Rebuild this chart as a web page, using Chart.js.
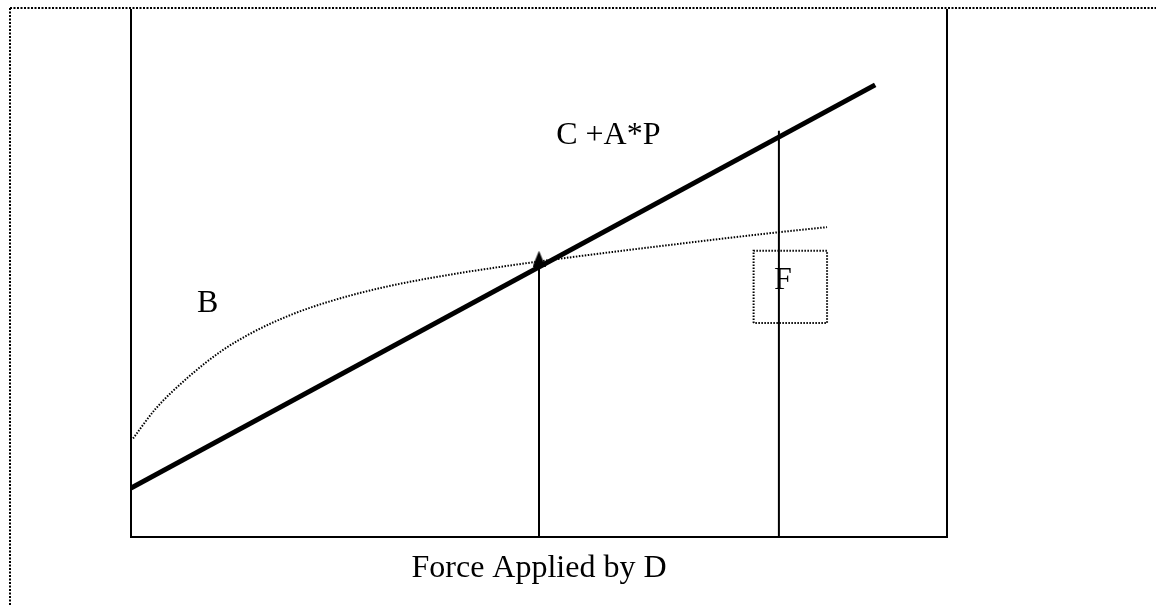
<!DOCTYPE html>
<html>
<head>
<meta charset="utf-8">
<title>Force Applied by D</title>
<script src="https://cdn.jsdelivr.net/npm/chart.js@4/dist/chart.umd.min.js"></script>
<style>
    html, body { margin: 0; padding: 0; background: #fff; }
    #holder { width: 1156px; height: 606px; }
</style>
</head>
<body>
<div id="holder"><canvas id="chart" width="1156" height="606"></canvas></div>
<script>
/*
 * Values (both axes run 0..100, no ticks shown)
 */
var axisTitle = 'Force Applied by D';

// Straight response line C + A*P
var lineX = [0, 91.2];
var lineY = [9.3, 85.8];

// Dotted saturating curve B
var curveX = [0.25, 3, 7, 11, 15, 20, 25, 31, 38, 45, 55, 67, 78, 85.3];
var curveY = [18.7, 24.3, 30.3, 35.2, 38.9, 42.4, 45.0, 47.4, 49.5, 51.2, 53.3, 55.6, 57.6, 58.8];

// Vertical drop lines (x position, height)
var dropX = [50.0, 79.4];
var dropTop = [52.8, 77.1];

// Dotted box round F
var boxX = [76.3, 85.3];
var boxY = [40.6, 54.3];

// Text labels placed in data units
var labelText = ['C +A*P', 'B', 'F'];
var labelX = [58.5, 9.4, 79.9];
var labelY = [76.2, 44.2, 48.6];

var serif = '"Liberation Serif", "Times New Roman", serif';

/*
 * Builds an {x, y} list from two arrays
 */
var toPoints = function(xs, ys) {
    return xs.map(function(x, i) { return { x: x, y: ys[i] }; });
};

/*
 * Small upward triangle drawn on a canvas, used as the marker
 */
var makeTriangle = function() {
    var c = document.createElement('canvas');
    c.width = 13;
    c.height = 16;
    var g = c.getContext('2d');
    g.fillStyle = '#000';
    g.beginPath();
    g.moveTo(6.5, 0);
    g.lineTo(13, 16);
    g.lineTo(0, 16);
    g.closePath();
    g.fill();
    return c;
};

// Dotted outer frame, top and left only
var framePlugin = {
    id: 'frame',
    afterDraw: function(chart) {
        var ctx = chart.ctx;
        ctx.save();
        ctx.strokeStyle = '#000';
        ctx.lineWidth = 2;
        ctx.setLineDash([2, 1.5]);
        ctx.beginPath();
        ctx.moveTo(10, 8);
        ctx.lineTo(chart.width, 8);
        ctx.moveTo(10, 8);
        ctx.lineTo(10, chart.height);
        ctx.stroke();
        ctx.restore();
    }
};

// Text labels positioned through the scales
var labelPlugin = {
    id: 'labels',
    afterDatasetsDraw: function(chart) {
        var ctx = chart.ctx;
        var xs = chart.scales.x;
        var ys = chart.scales.y;
        ctx.save();
        ctx.fillStyle = '#000';
        ctx.font = '32px ' + serif;
        ctx.textAlign = 'center';
        ctx.textBaseline = 'middle';
        labelText.forEach(function(t, i) {
            ctx.fillText(t, xs.getPixelForValue(labelX[i]), ys.getPixelForValue(labelY[i]));
        });
        ctx.restore();
    }
};

var hiddenScale = function(extra) {
    var s = {
        type: 'linear',
        min: 0,
        max: 100,
        grid: { display: false },
        ticks: { display: false },
        border: { display: true, color: '#000', width: 2 }
    };
    return Object.assign(s, extra);
};

var triangle = makeTriangle();
var datasets = [];

// Thick straight line
datasets.push({
    data: toPoints(lineX, lineY),
    borderColor: '#000',
    borderWidth: 5,
    pointRadius: 0
});

// Dotted curve
datasets.push({
    data: toPoints(curveX, curveY),
    borderColor: '#000',
    borderWidth: 2,
    borderDash: [1.5, 1.5],
    cubicInterpolationMode: 'monotone',
    pointRadius: 0
});

// Drop lines, first one carries the triangle marker
dropX.forEach(function(x, i) {
    datasets.push({
        data: [{ x: x, y: 0 }, { x: x, y: dropTop[i] }],
        borderColor: '#000',
        borderWidth: 2,
        pointStyle: triangle,
        pointRadius: i == 0 ? [0, 8] : 0
    });
});

// Box round F
datasets.push({
    data: toPoints(
        [boxX[0], boxX[0], boxX[1], boxX[1], boxX[0]],
        [boxY[0], boxY[1], boxY[1], boxY[0], boxY[0]]
    ),
    borderColor: '#000',
    borderWidth: 2,
    borderDash: [1.5, 1.5],
    pointRadius: 0
});

Chart.defaults.font.family = serif;

new Chart(document.getElementById('chart').getContext('2d'), {
    type: 'line',
    data: { datasets: datasets },
    options: {
        responsive: false,
        animation: false,
        layout: { padding: { left: 131, right: 209, top: 9, bottom: 0 } },
        plugins: {
            legend: { display: false },
            tooltip: { enabled: false }
        },
        scales: {
            x: hiddenScale({
                position: 'bottom',
                title: {
                    display: true,
                    text: axisTitle,
                    color: '#000',
                    font: { family: serif, size: 32 },
                    padding: { top: 0, bottom: 18 }
                },
                afterFit: function(s) { s.height = 69; }
            }),
            y: hiddenScale({
                position: 'left',
                afterFit: function(s) { s.width = 0; }
            }),
            y2: hiddenScale({
                position: 'right',
                afterFit: function(s) { s.width = 0; }
            })
        }
    },
    plugins: [framePlugin, labelPlugin]
});
</script>
</body>
</html>
